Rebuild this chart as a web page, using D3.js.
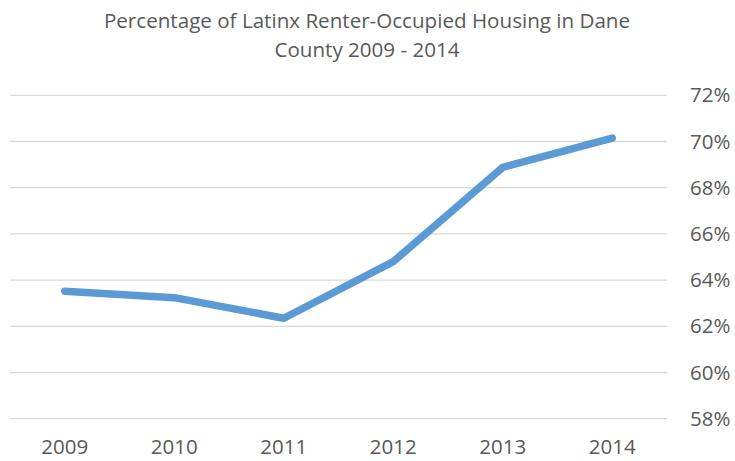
<!DOCTYPE html>
<html>
<head>
<meta charset="utf-8">
<script src="https://cdn.jsdelivr.net/npm/d3@7"></script>
<style>
  body { margin: 0; background: #fff; }
  svg { display: block; font-family: "Open Sans", sans-serif; }
</style>
</head>
<body>
<div id="chart"></div>
<script>
// data
const years = ['2009', '2010', '2011', '2012', '2013', '2014'];
const renterPct = [63.52, 63.24, 62.35, 64.8, 68.88, 70.15];
const yTicks = [58, 60, 62, 64, 66, 68, 70, 72];
const titleLines = ['Percentage of Latinx Renter-Occupied Housing in Dane', 'County 2009 - 2014'];

const width = 735, height = 461;
const margin = { top: 95.3, right: 68, bottom: 42.3, left: 10 };

const svg = d3.select('#chart')
    .append('svg')
    .attr('width', width)
    .attr('height', height);

// title
svg.append('g')
    .attr('fill', '#595959')
    .attr('font-size', '20.6px')
    .attr('text-anchor', 'middle')
    .selectAll('text')
    .data(titleLines)
    .join('text')
    .attr('x', 367)
    .attr('y', (d, i) => 28 + i * 29)
    .text(d => d);

const x = d3.scaleBand()
    .domain(years)
    .range([margin.left, width - margin.right]);

const y = d3.scaleLinear()
    .domain([58, 72])
    .range([height - margin.bottom, margin.top]);

// gridlines
svg.append('g')
    .selectAll('line')
    .data(yTicks)
    .join('line')
    .attr('x1', margin.left)
    .attr('x2', width - margin.right)
    .attr('y1', d => y(d))
    .attr('y2', d => y(d))
    .attr('stroke', '#d9d9d9')
    .attr('stroke-width', 1.3);

// right axis labels
const yAxis = svg.append('g')
    .attr('transform', `translate(${width - margin.right}, 0)`)
    .call(d3.axisRight(y).tickValues(yTicks).tickSize(0).tickPadding(23)
        .tickFormat(d => d + '%'));
yAxis.select('.domain').remove();
yAxis.selectAll('text')
    .attr('fill', '#595959')
    .attr('font-size', '20.5px')
    .attr('font-family', '"Open Sans", sans-serif');

// bottom axis labels
const xAxis = svg.append('g')
    .attr('transform', `translate(0, ${height - margin.bottom})`)
    .call(d3.axisBottom(x).tickSize(0).tickPadding(21));
xAxis.select('.domain').remove();
xAxis.selectAll('text')
    .attr('fill', '#595959')
    .attr('font-size', '20.5px')
    .attr('font-family', '"Open Sans", sans-serif');

// the line
const line = d3.line()
    .x((d, i) => x(years[i]) + x.bandwidth() / 2)
    .y(d => y(d));

svg.append('path')
    .datum(renterPct)
    .attr('d', line)
    .attr('fill', 'none')
    .attr('stroke', '#5b9bd5')
    .attr('stroke-width', 7.5)
    .attr('stroke-linecap', 'round')
    .attr('stroke-linejoin', 'round');
</script>
</body>
</html>
